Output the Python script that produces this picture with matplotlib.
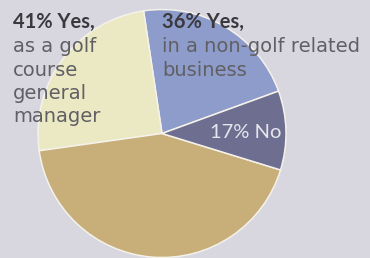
import matplotlib
matplotlib.use("Agg")
import matplotlib.pyplot as plt

# Data
categories = ["Yes, in a non-golf related business", "Yes, as a golf course general manager", "Other", "No"]
values = [36, 41, 71, 17]
colors = ["#8e9ccb", "#ebe8c4", "#c8ae79", "#6e6e90"]

left_title = "41% Yes,"
left_lines = ["as a golf", "course", "general", "manager"]
right_title = "36% Yes,"
right_lines = ["in a non-golf related", "business"]
no_label = "17% No"

W, H = 370, 258
fig = plt.figure(figsize=(W / 100, H / 100), dpi=100)
fig.patch.set_facecolor("#d8d6de")
ax = fig.add_axes([0, 0, 1, 1])
ax.set_xlim(0, W)
ax.set_ylim(0, H)
ax.axis("off")

ax.pie(values, colors=colors, startangle=20.0, counterclock=True,
       center=(162, 124.5), radius=124, frame=True,
       wedgeprops=dict(edgecolor="#f4f2ea", linewidth=1.1))
ax.set_xlim(0, W)
ax.set_ylim(0, H)
ax.axis("off")

title_kw = dict(fontsize=14.5, fontweight="bold", color="#3a3a3e", family="Lato", va="baseline", ha="left")
line_kw = dict(fontsize=14, color="#606064", family="DejaVu Sans", va="baseline", ha="left")

ax.text(13, 230, left_title, **title_kw)
for i, s in enumerate(left_lines):
    ax.text(13, 206 - i * 23.5, s, **line_kw)
ax.text(162, 230, right_title, **title_kw)
for i, s in enumerate(right_lines):
    ax.text(162, 206 - i * 23.5, s, **line_kw)
ax.text(210, 120, no_label, fontsize=14.5, color="#e6e6ee", family="Lato", va="baseline", ha="left")

fig.savefig("out.png", dpi=100, facecolor=fig.get_facecolor())
